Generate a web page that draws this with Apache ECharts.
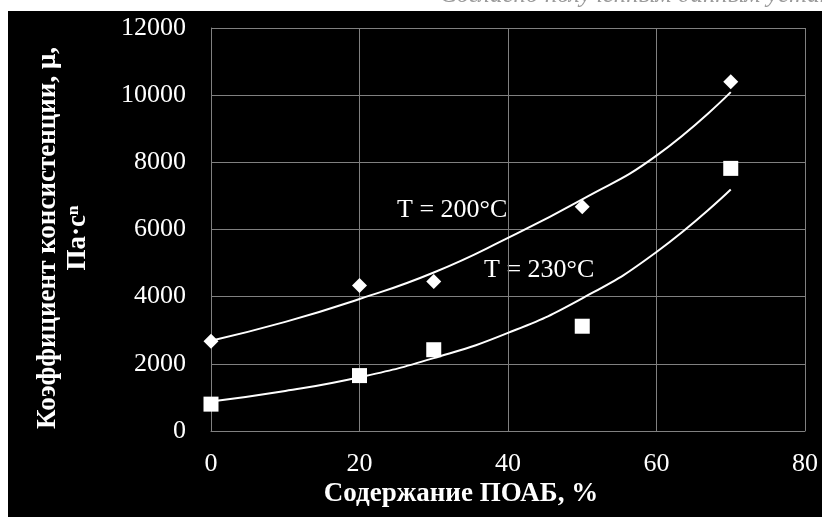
<!DOCTYPE html>
<html>
<head>
    <meta charset="utf-8"/>
    <title>ECharts</title>
    <script src="https://cdn.jsdelivr.net/npm/echarts@6/dist/echarts.min.js"></script>
    <style>
        html, body { margin: 0; padding: 0; background: #fff; }
    </style>
</head>
<body>
<div id="main" style="width: 822px; height: 517px"></div>
<script type="text/javascript">
    // измеренные точки
    var xPoints = [0, 20, 30, 50, 70];
    var mu200 = [2670, 4330, 4450, 6680, 10400];
    var mu230 = [800, 1650, 2420, 3120, 7820];

    // линии тренда
    var xTrend = [0, 10, 20, 30, 40, 50, 60, 70];
    var trend200 = [2690, 3250, 3930, 4720, 5750, 6900, 8200, 10090];
    var trend230 = [880, 1190, 1600, 2170, 2920, 3950, 5330, 7190];

    var xTicks = [0, 20, 40, 60, 80];
    var yTicks = [0, 2000, 4000, 6000, 8000, 10000, 12000];

    function pairs(xs, ys) {
        return xs.map(function (x, i) { return [x, ys[i]]; });
    }

    var font = '"Liberation Serif", "Times New Roman", serif';
    var myChart = echarts.init(document.getElementById("main"));

    var option = {
        animation: false,
        backgroundColor: '#fff',
        textStyle: {fontFamily: font},
        graphic: [
            {type: 'rect', z: -10, shape: {x: 8, y: 11, width: 814, height: 506}, style: {fill: '#000'}},
            {
                type: 'text', left: 440, top: -17,
                style: {text: 'Согласно полученным данным установлено', fill: '#9a9a9a',
                    font: 'italic 25px ' + font}
            },
            {
                type: 'text', x: 63, y: 238, rotation: Math.PI / 2,
                style: {
                    text: 'Коэффициент консистенции, μ,\nПа·сⁿ', fill: '#fff',
                    font: 'bold 27px ' + font, align: 'center', verticalAlign: 'middle',
                    lineHeight: 30
                }
            },
            {
                type: 'text', x: 461, y: 494,
                style: {
                    text: 'Содержание ПОАБ, %', fill: '#fff',
                    font: 'bold 27px ' + font, align: 'center', verticalAlign: 'middle'
                }
            },
            {
                type: 'text', x: 397, y: 210,
                style: {text: 'T = 200°C', fill: '#fff', font: '26px ' + font, verticalAlign: 'middle'}
            },
            {
                type: 'text', x: 484, y: 270,
                style: {text: 'T = 230°C', fill: '#fff', font: '26px ' + font, verticalAlign: 'middle'}
            }
        ],
        grid: {left: 211, right: 17, top: 28, bottom: 86},
        xAxis: {
            type: 'value', min: xTicks[0], max: xTicks[xTicks.length - 1], interval: 20,
            axisLine: {show: true, lineStyle: {color: '#808080'}},
            axisTick: {show: false},
            axisLabel: {color: '#fff', fontSize: 26, fontFamily: font, margin: 20,
                formatter: function (v) { return String(v); }},
            splitLine: {show: true, lineStyle: {color: '#808080', width: 1}}
        },
        yAxis: {
            type: 'value', min: yTicks[0], max: yTicks[yTicks.length - 1], interval: 2000,
            axisLine: {show: true, lineStyle: {color: '#808080'}},
            axisTick: {show: false},
            axisLabel: {color: '#fff', fontSize: 26, fontFamily: font, margin: 25,
                formatter: function (v) { return String(v); }},
            splitLine: {show: true, lineStyle: {color: '#808080', width: 1}}
        },
        series: [
            {
                name: 'trend200', type: 'line', smooth: true, symbol: 'none',
                lineStyle: {color: '#fff', width: 2}, data: pairs(xTrend, trend200), z: 2
            },
            {
                name: 'trend230', type: 'line', smooth: true, symbol: 'none',
                lineStyle: {color: '#fff', width: 2}, data: pairs(xTrend, trend230), z: 2
            },
            {
                name: 'T = 200°C', type: 'scatter', symbol: 'diamond', symbolSize: 15,
                itemStyle: {color: '#fff', opacity: 1}, data: pairs(xPoints, mu200), z: 3
            },
            {
                name: 'T = 230°C', type: 'scatter', symbol: 'rect', symbolSize: 15,
                itemStyle: {color: '#fff', opacity: 1}, data: pairs(xPoints, mu230), z: 3
            }
        ]
    };

    myChart.setOption(option);
</script>
</body>
</html>
